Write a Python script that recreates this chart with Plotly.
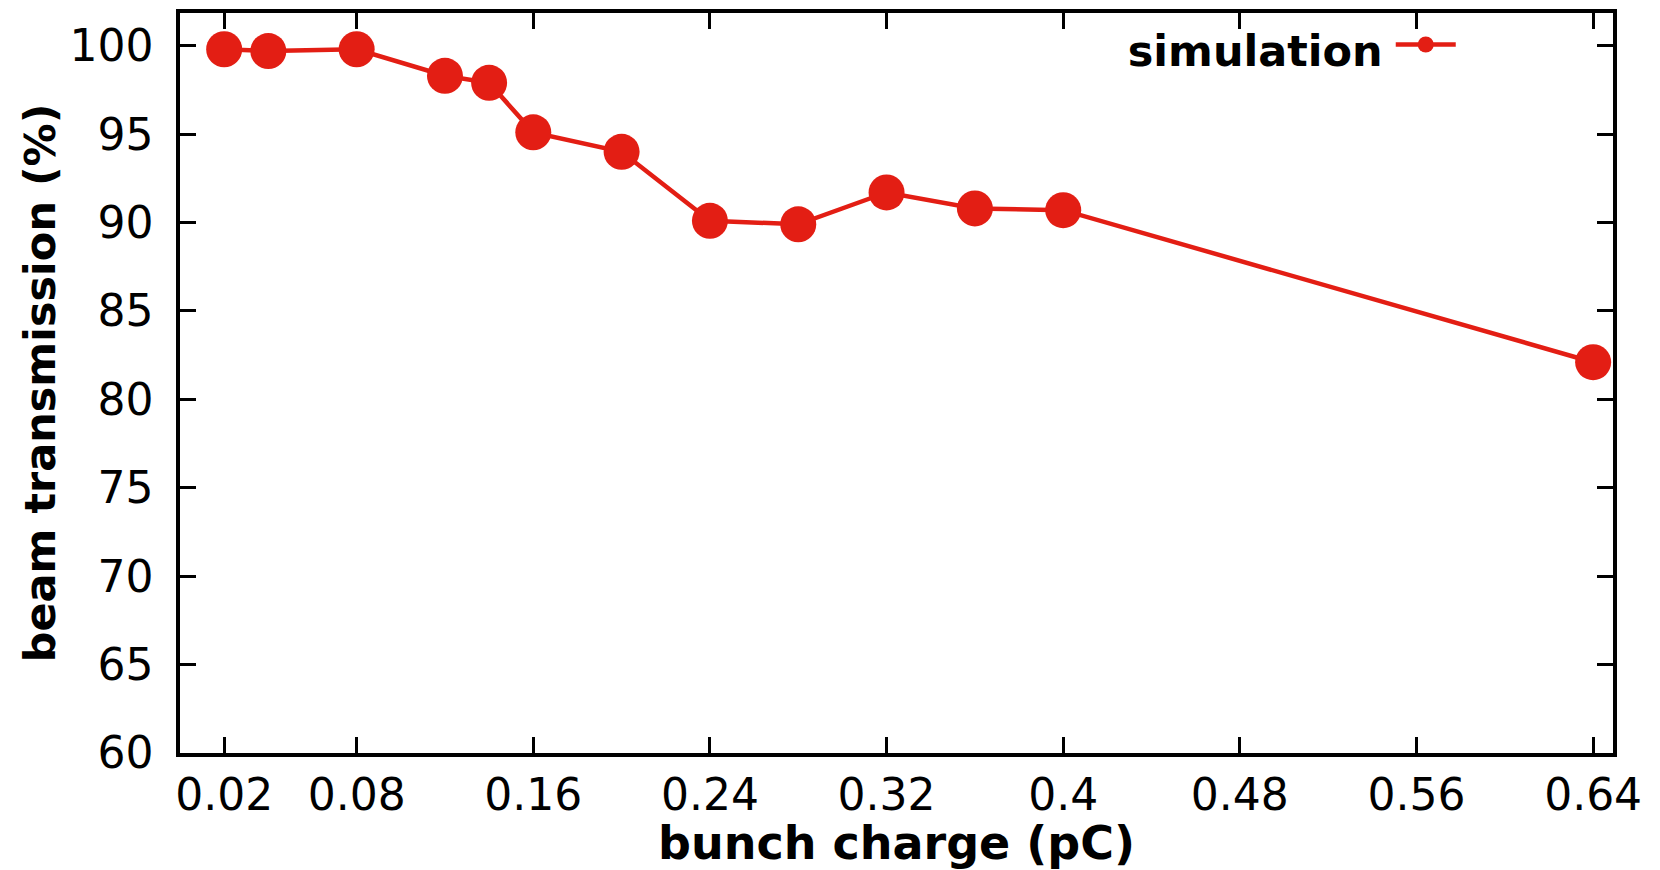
import plotly.graph_objects as go

charge = [0.02, 0.04, 0.08, 0.12, 0.14, 0.16, 0.20, 0.24, 0.28, 0.32, 0.36, 0.40, 0.64]
transmission = [99.8, 99.7, 99.8, 98.3, 97.9, 95.1, 94.0, 90.1, 89.9, 91.7, 90.8, 90.7, 82.1]
x_ticks = [0.02, 0.08, 0.16, 0.24, 0.32, 0.40, 0.48, 0.56, 0.64]
x_ticklabels = ["0.02", "0.08", "0.16", "0.24", "0.32", "0.4", "0.48", "0.56", "0.64"]
y_ticks = [60, 65, 70, 75, 80, 85, 90, 95, 100]

RED = "#e31e14"
FONT = "DejaVu Sans"

fig = go.Figure()
fig.add_trace(go.Scatter(
    x=charge, y=transmission, mode="lines+markers", name=" ",
    line=dict(color=RED, width=4.5),
    marker=dict(color=RED, size=36, line=dict(width=0)),
    showlegend=True,
))

axis_common = dict(
    showline=True, linecolor="black", linewidth=3.5, mirror="ticks",
    ticks="inside", ticklen=16, tickwidth=2.5, tickcolor="black",
    showgrid=False, zeroline=False,
    tickfont=dict(family=FONT, size=44, color="black"),
)

fig.update_layout(
    width=1660, height=870,
    margin=dict(l=180, r=47, t=10, b=117),
    paper_bgcolor="white", plot_bgcolor="white",
    xaxis=dict(
        range=[0.0, 0.649], tickvals=x_ticks, ticktext=x_ticklabels,
        title=dict(text="bunch charge (pC)", standoff=1,
                   font=dict(family=FONT, size=46, color="black", weight="bold")),
        ticklabelstandoff=0,
        **axis_common,
    ),
    yaxis=dict(
        range=[60, 101.85], tickvals=y_ticks,
        title=dict(text="beam transmission (%)", standoff=1,
                   font=dict(family=FONT, size=43, color="black", weight="bold")),
        ticklabelstandoff=14,
        **axis_common,
    ),
    legend=dict(
        x=0.66, y=1.004, xanchor="left", yanchor="top",
        bgcolor="rgba(0,0,0,0)",
        title=dict(text="simulation", side="left",
                   font=dict(family=FONT, size=43, color="black", weight="bold")),
        font=dict(family=FONT, size=43, color="black"),
        itemwidth=60,
    ),
)

fig.write_html("out.html", config={"displayModeBar": False},
               post_script="document.body.style.margin='0';")
